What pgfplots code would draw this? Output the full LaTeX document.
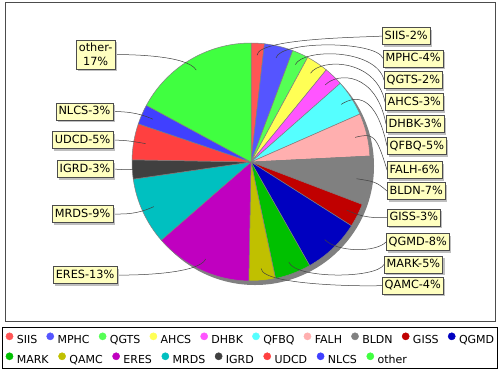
\documentclass[border=0pt]{standalone}
\usepackage{pgfplots}
\pgfplotsset{compat=1.18}
\usepgfplotslibrary{polar}
\usetikzlibrary{shadows}
\usepackage{fontspec}
\setmainfont{DejaVu Sans}
\definecolor{cSIIS}{HTML}{FF5555}
\definecolor{cMPHC}{HTML}{5555FF}
\definecolor{cQGTS}{HTML}{55FF55}
\definecolor{cAHCS}{HTML}{FFFF55}
\definecolor{cDHBK}{HTML}{FF55FF}
\definecolor{cQFBQ}{HTML}{55FFFF}
\definecolor{cFALH}{HTML}{FFAFAF}
\definecolor{cBLDN}{HTML}{808080}
\definecolor{cGISS}{HTML}{C00000}
\definecolor{cQGMD}{HTML}{0000C0}
\definecolor{cMARK}{HTML}{00C000}
\definecolor{cQAMC}{HTML}{C0C000}
\definecolor{cERES}{HTML}{C000C0}
\definecolor{cMRDS}{HTML}{00C0C0}
\definecolor{cIGRD}{HTML}{404040}
\definecolor{cUDCD}{HTML}{FF4040}
\definecolor{cNLCS}{HTML}{4040FF}
\definecolor{cOTHER}{HTML}{40FF40}
\definecolor{pieshadow}{HTML}{808080}
\definecolor{lblfill}{HTML}{FFFFC0}
\newcommand\lblfont{\fontsize{11.3}{13.6}\selectfont}
\newcommand\legfont{\fontsize{11}{13}\selectfont}
% slice: colour, cumulative percent before, percent
\newcommand\slice[3]{%
  \pgfmathsetmacro\sa{90-3.6*(#2)}%
  \pgfmathsetmacro\ea{90-3.6*((#2)+(#3))}%
  \edef\doslice{\noexpand\addplot[fill=#1, draw=gray, line width=0.5pt, mark=none] coordinates {(0,0) (\sa,1)} arc[start angle=\sa, end angle=\ea, radius=119pt] -- cycle;}%
  \doslice}
% right label: cumulative, value, x (left edge), y (centre), text
\newcommand\rlab[5]{%
  \pgfmathsetmacro\th{90-3.6*((#1)+(#2)/2)}%
  \pgfmathsetmacro\Lx{251+107*cos(\th)}\pgfmathsetmacro\Ly{162-107*sin(\th)}%
  \pgfmathsetmacro\Ex{251+125*cos(\th)}\pgfmathsetmacro\Ey{162-125*sin(\th)}%
  \draw[lnk] (#3,#4) .. controls (376,\Ey) and (\Ex,\Ey) .. (\Lx,\Ly);
  \node[lbl,anchor=west] at (#3,#4) {#5};}
\newcommand\llab[5]{%
  \pgfmathsetmacro\th{90-3.6*((#1)+(#2)/2)}%
  \pgfmathsetmacro\Lx{251+107*cos(\th)}\pgfmathsetmacro\Ly{162-107*sin(\th)}%
  \pgfmathsetmacro\Ex{251+125*cos(\th)}\pgfmathsetmacro\Ey{162-125*sin(\th)}%
  \draw[lnk] (#3,#4) .. controls (126,\Ey) and (\Ex,\Ey) .. (\Lx,\Ly);
  \node[lbl,anchor=east] at (#3,#4) {#5};}
\tikzset{
  lblbase/.style={draw=black!70, line width=0.5pt, fill=lblfill, font=\lblfont,
    inner xsep=2.4pt, drop shadow={shadow xshift=2pt, shadow yshift=-2pt, fill=black!25, opacity=1}},
  lbl/.style={lblbase, inner ysep=2.5pt, text height=9pt, text depth=3pt},
  lnk/.style={draw=black!75, line width=0.5pt}
}
\begin{document}
\begin{tikzpicture}
\fill[white] (0pt,0pt) rectangle (500pt,-370pt);
\draw[black!70, line width=0.8pt] (5pt,-2pt) rectangle (495pt,-321pt);
\draw[black, line width=0.8pt] (2pt,-327pt) rectangle (497pt,-368pt);
% shadow of the pie
\begin{polaraxis}[at={(255pt,-166pt)}, anchor=center, scale only axis, width=238pt, height=238pt,
  hide axis, xmin=0, xmax=360, ymin=0, ymax=1, clip=false]
\addplot[fill=pieshadow, draw=none, mark=none] coordinates {(0,1)} arc[start angle=0, end angle=360, radius=119pt] -- cycle;
\end{polaraxis}
% the pie
\begin{polaraxis}[at={(251pt,-162pt)}, anchor=center, scale only axis, width=238pt, height=238pt,
  hide axis, xmin=0, xmax=360, ymin=0, ymax=1, clip=false]
\slice{cSIIS}{0}{1.8}
\slice{cMPHC}{1.8}{3.9}
\slice{cQGTS}{5.7}{2.2}
\slice{cAHCS}{7.9}{3.0}
\slice{cDHBK}{10.9}{2.6}
\slice{cQFBQ}{13.5}{4.9}
\slice{cFALH}{18.4}{5.8}
\slice{cBLDN}{24.2}{6.6}
\slice{cGISS}{30.8}{3.2}
\slice{cQGMD}{34.0}{7.8}
\slice{cMARK}{41.8}{4.9}
\slice{cQAMC}{46.7}{3.6}
\slice{cERES}{50.3}{13.3}
\slice{cMRDS}{63.6}{9.1}
\slice{cIGRD}{72.7}{2.6}
\slice{cUDCD}{75.3}{4.9}
\slice{cNLCS}{80.2}{2.7}
\slice{cOTHER}{82.9}{17.1}
\end{polaraxis}
% labels
\begin{scope}[x=1pt,y=-1pt]
\rlab{0}{1.8}{382}{36}{SIIS-2\%}
\rlab{1.8}{3.9}{383}{58.3}{MPHC-4\%}
\rlab{5.7}{2.2}{384}{80}{QGTS-2\%}
\rlab{7.9}{3.0}{385}{102}{AHCS-3\%}
\rlab{10.9}{2.6}{386}{124}{DHBK-3\%}
\rlab{13.5}{4.9}{387}{146}{QFBQ-5\%}
\rlab{18.4}{5.8}{387}{170}{FALH-6\%}
\rlab{24.2}{6.6}{387}{191}{BLDN-7\%}
\rlab{30.8}{3.2}{387}{217.5}{GISS-3\%}
\rlab{34.0}{7.8}{386}{242}{QGMD-8\%}
\rlab{41.8}{4.9}{384}{264.5}{MARK-5\%}
\rlab{46.7}{3.6}{382}{285.5}{QAMC-4\%}
\llab{50.3}{13.3}{117}{275}{ERES-13\%}
\llab{63.6}{9.1}{113}{214}{MRDS-9\%}
\llab{72.7}{2.6}{113}{169}{IGRD-3\%}
\llab{75.3}{4.9}{113}{140}{UDCD-5\%}
\llab{80.2}{2.7}{113}{111.3}{NLCS-3\%}
\pgfmathsetmacro\th{90-3.6*(82.9+17.1/2)}%
\pgfmathsetmacro\Lx{251+107*cos(\th)}\pgfmathsetmacro\Ly{162-107*sin(\th)}%
\pgfmathsetmacro\Ex{251+125*cos(\th)}\pgfmathsetmacro\Ey{162-125*sin(\th)}%
\draw[lnk] (115,54.5) .. controls (126,\Ey) and (\Ex,\Ey) .. (\Lx,\Ly);
\node[lblbase, inner ysep=3.2pt, align=center, anchor=east] at (115,54.5) {other-\\17\%};
\end{scope}
% legend, row 1
\begin{axis}[at={(0pt,-370pt)}, anchor=south west, scale only axis, width=500pt, height=370pt,
  hide axis, xmin=0, xmax=1, ymin=0, ymax=1, legend columns=-1,
  legend style={at={(axis description cs:0.011,0.08446)}, anchor=west, draw=none, fill=none,
    inner sep=0pt, font=\legfont, nodes={inner sep=0pt},
    /tikz/every odd column/.append style={column sep=3.5pt},
    /tikz/every even column/.append style={column sep=9.2pt}},
  legend image code/.code={\fill[#1] (3.6pt,3.8pt) circle[radius=3.6pt];}]
\addlegendimage{cSIIS}\addlegendentry{SIIS}
\addlegendimage{cMPHC}\addlegendentry{MPHC}
\addlegendimage{cQGTS}\addlegendentry{QGTS}
\addlegendimage{cAHCS}\addlegendentry{AHCS}
\addlegendimage{cDHBK}\addlegendentry{DHBK}
\addlegendimage{cQFBQ}\addlegendentry{QFBQ}
\addlegendimage{cFALH}\addlegendentry{FALH}
\addlegendimage{cBLDN}\addlegendentry{BLDN}
\addlegendimage{cGISS}\addlegendentry{GISS}
\addlegendimage{cQGMD}\addlegendentry{QGMD}
\end{axis}
% legend, row 2
\begin{axis}[at={(0pt,-370pt)}, anchor=south west, scale only axis, width=500pt, height=370pt,
  hide axis, xmin=0, xmax=1, ymin=0, ymax=1, legend columns=-1,
  legend style={at={(axis description cs:0.011,0.0304)}, anchor=west, draw=none, fill=none,
    inner sep=0pt, font=\legfont, nodes={inner sep=0pt},
    /tikz/every odd column/.append style={column sep=3.5pt},
    /tikz/every even column/.append style={column sep=9.6pt}},
  legend image code/.code={\fill[#1] (3.6pt,3.8pt) circle[radius=3.6pt];}]
\addlegendimage{cMARK}\addlegendentry{MARK}
\addlegendimage{cQAMC}\addlegendentry{QAMC}
\addlegendimage{cERES}\addlegendentry{ERES}
\addlegendimage{cMRDS}\addlegendentry{MRDS}
\addlegendimage{cIGRD}\addlegendentry{IGRD}
\addlegendimage{cUDCD}\addlegendentry{UDCD}
\addlegendimage{cNLCS}\addlegendentry{NLCS}
\addlegendimage{cOTHER}\addlegendentry{other}
\end{axis}
\end{tikzpicture}
\end{document}
